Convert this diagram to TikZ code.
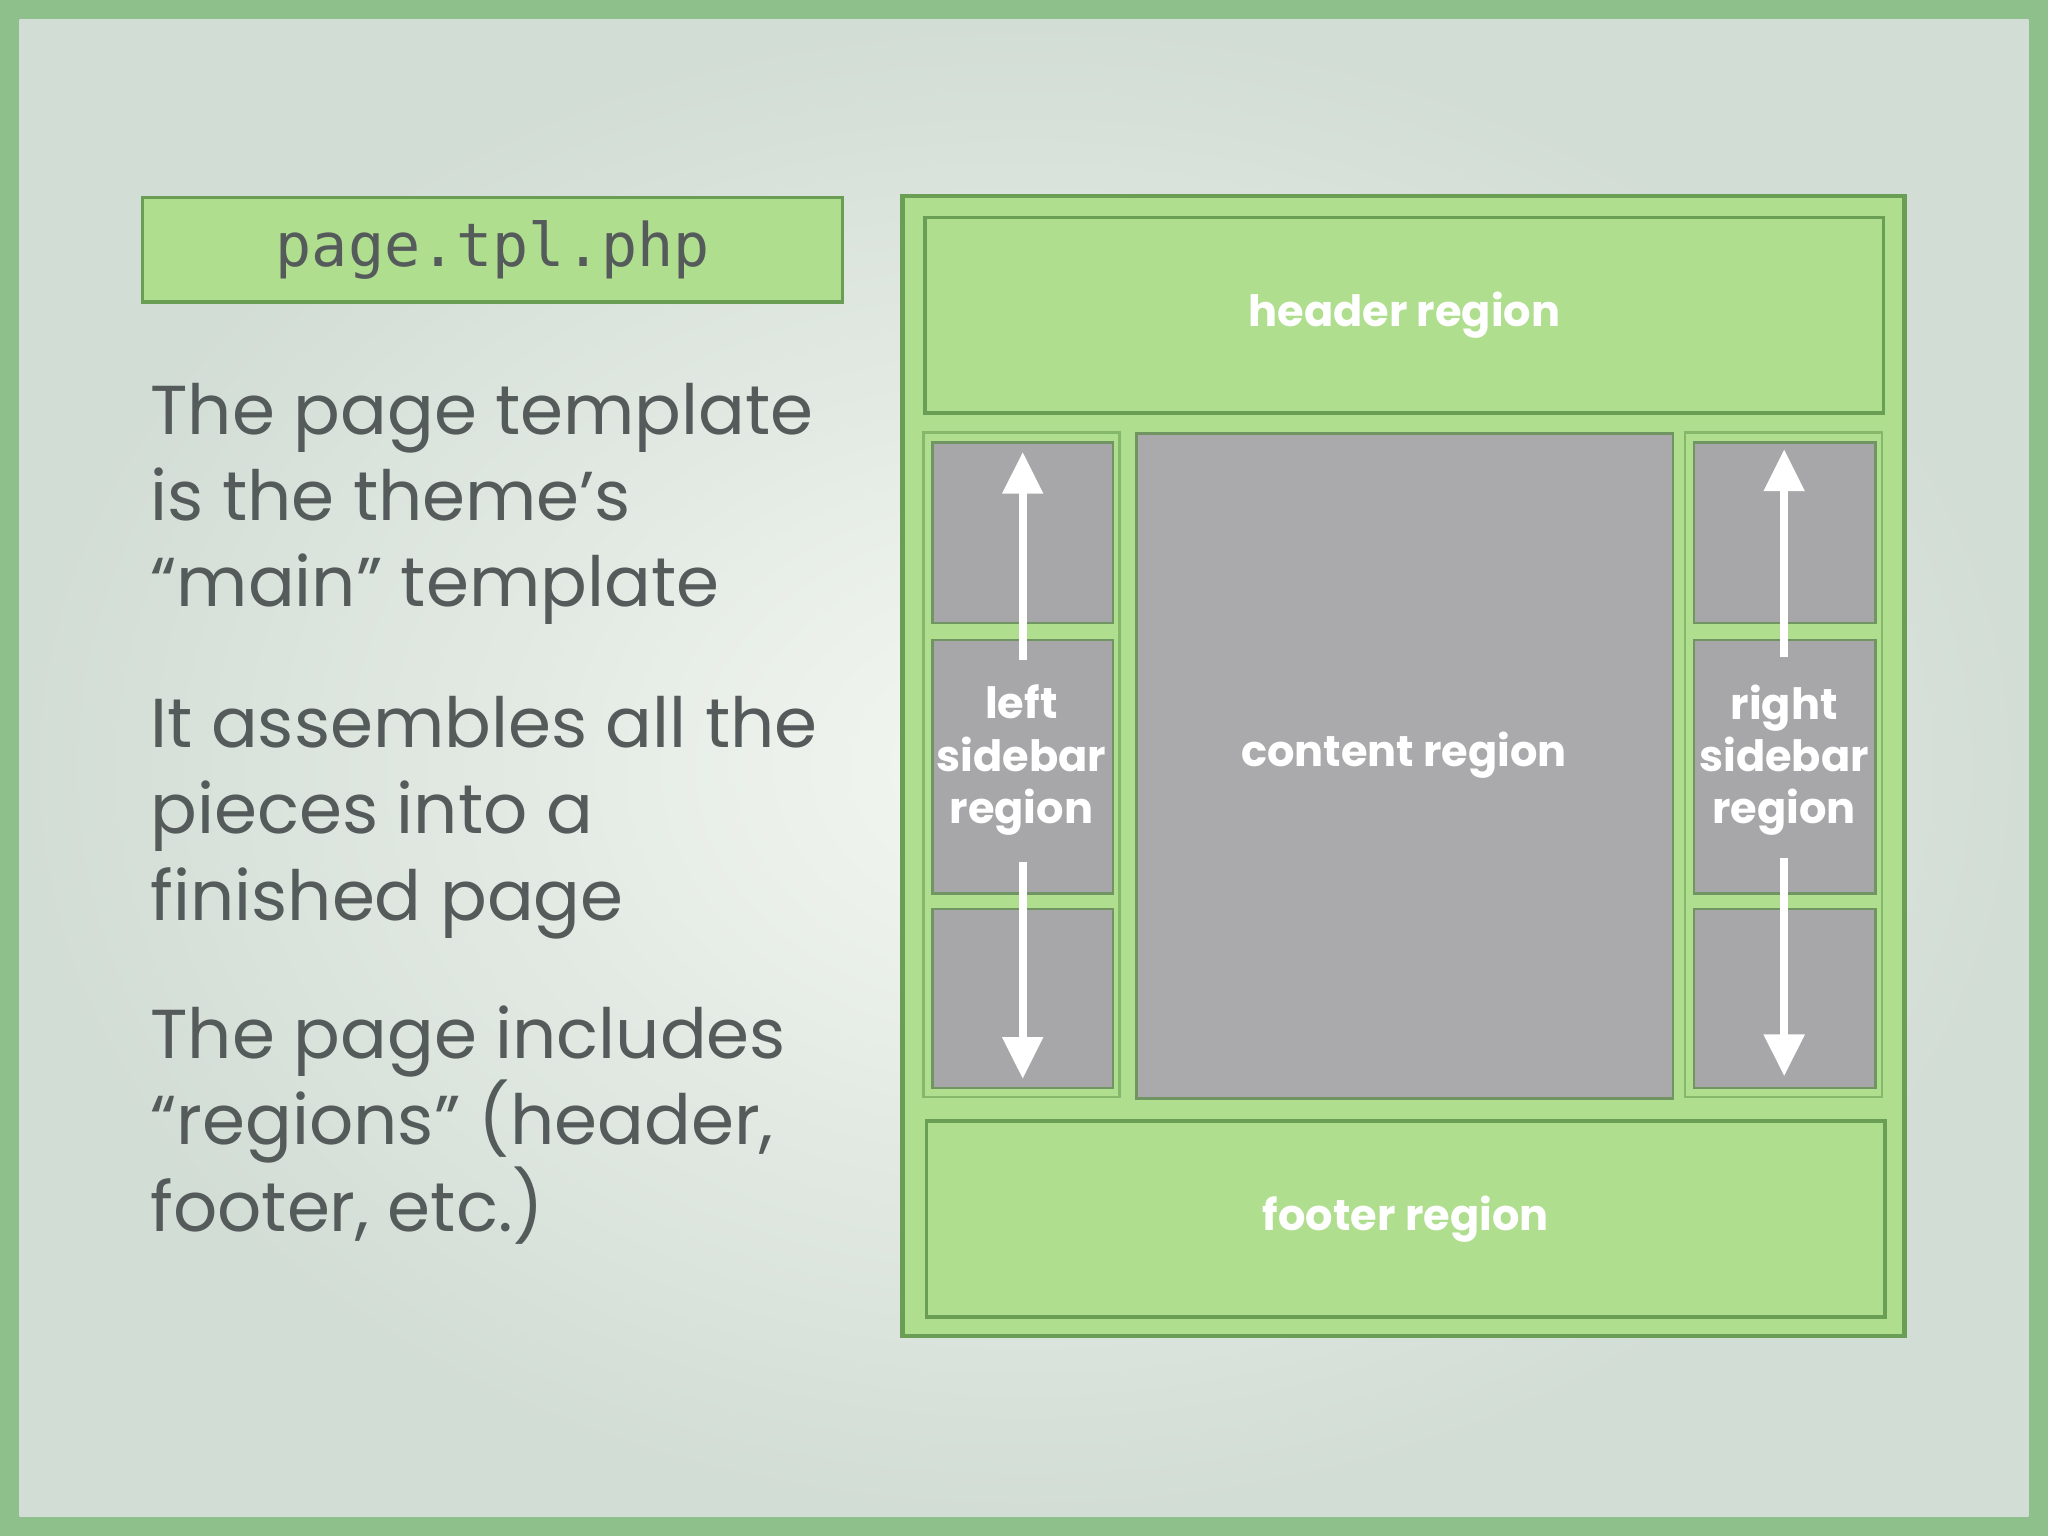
\documentclass[tikz,border=0pt]{standalone}
\usepackage{fontspec}
\setmainfont{Poppins}
\newfontfamily\monof{DejaVu Sans Mono}
\usetikzlibrary{arrows.meta}
\definecolor{lg}{HTML}{B0DE8F}
\definecolor{dg}{HTML}{6A9E55}
\definecolor{gb}{HTML}{A7A6A8}
\definecolor{tx}{HTML}{555A5A}
\definecolor{frame}{HTML}{8DC08A}
\definecolor{bgin}{HTML}{F4F7F2}
\definecolor{bgout}{HTML}{D2DDD5}
\begin{document}
\begin{tikzpicture}[x=1pt,y=-1pt,
  reg/.style={draw=dg,line width=2.5pt,fill=lg},
  gbox/.style={draw=dg!70!gray,line width=2pt,fill=gb},
  wlab/.style={text=white,font=\fontsize{33}{40}\selectfont\bfseries,align=center},
  body/.style={anchor=north west,text=tx,align=left,font=\fontsize{53}{66}\selectfont,inner sep=0pt},
  arr/.style={white,line width=6pt,-{Triangle[width=30pt,length=32pt]}}]
\useasboundingbox (0,0) rectangle (1568,1176);
\fill[frame] (0,0) rectangle (1568,1176);
\shade[inner color=bgin,outer color=bgout] (15,15) rectangle (1553,1161);
\node[draw=dg,line width=2.5pt,fill=lg,minimum width=536pt,minimum height=80pt,anchor=north west,font=\monof\fontsize{46}{50}\selectfont,text=tx] (title) at (108,150) {page.tpl.php};
\node[body] (t1) at (115,293) {The page template\\is the theme’s\\“main” template};
\node[body] (t2) at (115,533) {It assembles all the\\pieces into a\\finished page};
\node[body] (t3) at (115,770) {The page includes\\“regions” (header,\\footer, etc.)};
\draw[reg,line width=3.5pt] (691,150) rectangle (1458,1023);
\node[reg,minimum width=734pt,minimum height=150pt,anchor=north west] (hdr) at (707,165) {};
\node[wlab] at (hdr) {header region};
\node[reg,minimum width=734pt,minimum height=150pt,anchor=north west] (ftr) at (708,857) {};
\node[wlab] at (ftr) {footer region};
\draw[draw=dg!60!lg,line width=2pt] (707,331) rectangle (857,840);
\draw[draw=dg!60!lg,line width=2pt] (1290,331) rectangle (1441,840);
\node[gbox,minimum width=411pt,minimum height=509pt,anchor=north west,fill=gb!97!white] (cnt) at (869,331) {};
\node[wlab] at (1075,578) {content region};
\node[gbox,minimum width=138pt,minimum height=138pt,anchor=north west] (l1) at (713,338) {};
\node[gbox,minimum width=138pt,minimum height=194pt,anchor=north west] (l2) at (713,489) {};
\node[gbox,minimum width=138pt,minimum height=137pt,anchor=north west] (l3) at (713,695) {};
\node[gbox,minimum width=139pt,minimum height=138pt,anchor=north west] (r1) at (1296,338) {};
\node[gbox,minimum width=139pt,minimum height=194pt,anchor=north west] (r2) at (1296,489) {};
\node[gbox,minimum width=139pt,minimum height=137pt,anchor=north west] (r3) at (1296,695) {};
\node[wlab] (ll) at (782,582) {left\\sidebar\\region};
\node[wlab] (rl) at (1366,582) {right\\sidebar\\region};
\coordinate (la1) at (783,505); \coordinate (la2) at (783,346);
\coordinate (lb1) at (783,660); \coordinate (lb2) at (783,826);
\coordinate (ra1) at (1366,503); \coordinate (ra2) at (1366,344);
\coordinate (rb1) at (1366,657); \coordinate (rb2) at (1366,824);
\draw[arr] (la1) -- (la2);
\draw[arr] (lb1) -- (lb2);
\draw[arr] (ra1) -- (ra2);
\draw[arr] (rb1) -- (rb2);
\end{tikzpicture}
\end{document}
